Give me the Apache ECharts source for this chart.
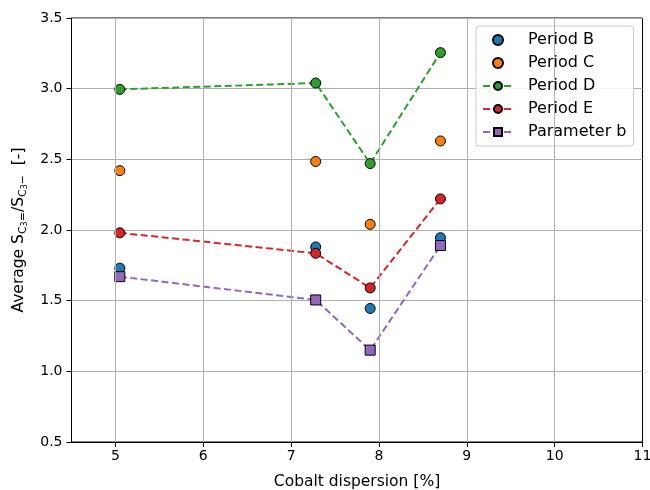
<!DOCTYPE html>
<html>
<head>
<meta charset="utf-8">
<script src="https://cdn.jsdelivr.net/npm/echarts@6/dist/echarts.min.js"></script>
<style>
  html, body { margin: 0; padding: 0; background: #fff; }
  #main { width: 650px; height: 490px; }
</style>
</head>
<body>
<div id="main"></div>
<script>
var dispersion = [5.05, 7.28, 7.9, 8.7];
var periodB = [1.73, 1.88, 1.445, 1.945];
var periodC = [2.42, 2.485, 2.04, 2.63];
var periodD = [2.995, 3.04, 2.47, 3.255];
var periodE = [1.98, 1.835, 1.59, 2.22];
var paramB = [1.67, 1.505, 1.15, 1.89];
var xTicks = [5, 6, 7, 8, 9, 10, 11];

var font = 'DejaVu Sans';

function pairs(ys) {
  return dispersion.map((x, i) => [x, ys[i]]);
}

function makeSeries(name, ys, color, symbol, withLine) {
  return {
    name: name,
    type: withLine ? 'line' : 'scatter',
    data: pairs(ys),
    symbol: symbol,
    symbolSize: 10,
    showSymbol: true,
    itemStyle: { color: color, borderColor: '#000', borderWidth: 1, opacity: 1 },
    lineStyle: { color: color, width: 2, type: [7, 3.5] },
    z: 3
  };
}

var chart = echarts.init(document.getElementById('main'));
var option = {
  backgroundColor: '#fff',
  animation: false,
  textStyle: { fontFamily: font },
  grid: {
    left: 71.5, right: 7.5, top: 18, bottom: 48,
    outerBoundsMode: 'none',
    show: true, borderColor: '#000', borderWidth: 1
  },
  legend: {
    orient: 'vertical',
    left: 476, top: 26,
    padding: [6, 7, 6, 6],
    itemGap: 7,
    itemWidth: 30, itemHeight: 10,
    backgroundColor: 'rgba(255,255,255,0.85)',
    borderColor: '#ccc', borderWidth: 1, borderRadius: 3,
    textStyle: { fontFamily: font, fontSize: 16, color: '#000', padding: [0, 0, 0, 10] },
    data: ['Period B', 'Period C', 'Period D', 'Period E', 'Parameter b']
  },
  xAxis: {
    type: 'value',
    min: 4.5, max: 11, interval: 0.5,
    name: 'Cobalt dispersion [%]',
    nameLocation: 'middle', nameGap: 32,
    nameTextStyle: { fontFamily: font, fontSize: 15.5, color: '#000' },
    axisLine: { show: true, lineStyle: { color: '#000' } },
    axisTick: { show: true, length: 5, customValues: xTicks, lineStyle: { color: '#000' } },
    axisLabel: {
      fontFamily: font, fontSize: 14, color: '#000', margin: 7,
      customValues: xTicks
    },
    splitLine: { show: false }
  },
  yAxis: {
    type: 'value',
    min: 0.5, max: 3.5, interval: 0.5,
    name: '{n|Average S}{s|C}{ss|3}{s|=}{n|/S}{s|C}{ss|3}{s|−}{n|  [-]}',
    nameLocation: 'middle', nameGap: 42,
    nameTextStyle: {
      fontFamily: font, fontSize: 15.5, color: '#000',
      rich: {
        n: { fontFamily: font, fontSize: 15.5, color: '#000' },
        s: { fontFamily: font, fontSize: 11, color: '#000', padding: [8, 0, 0, 0] },
        ss: { fontFamily: font, fontSize: 8, color: '#000', padding: [13, 0, 0, 0] }
      }
    },
    axisLine: { show: true, lineStyle: { color: '#000' } },
    axisTick: { show: true, length: 5, lineStyle: { color: '#000' } },
    axisLabel: {
      fontFamily: font, fontSize: 14, color: '#000', margin: 9,
      formatter: v => v.toFixed(1)
    },
    splitLine: { show: true, lineStyle: { color: '#b0b0b0', width: 1 } }
  },
  series: [
    {
      name: 'xgrid',
      type: 'scatter',
      data: [],
      silent: true,
      z: 1,
      markLine: {
        silent: true,
        symbol: 'none',
        animation: false,
        label: { show: false },
        lineStyle: { color: '#b0b0b0', width: 1, type: 'solid' },
        data: xTicks.slice(0, -1).map(v => ({ xAxis: v }))
      }
    },
    makeSeries('Period B', periodB, '#1f77b4', 'circle', false),
    makeSeries('Period C', periodC, '#ff7f0e', 'circle', false),
    makeSeries('Period D', periodD, '#2ca02c', 'circle', true),
    makeSeries('Period E', periodE, '#d62728', 'circle', true),
    makeSeries('Parameter b', paramB, '#9467bd', 'rect', true)
  ]
};
chart.setOption(option);
</script>
</body>
</html>
